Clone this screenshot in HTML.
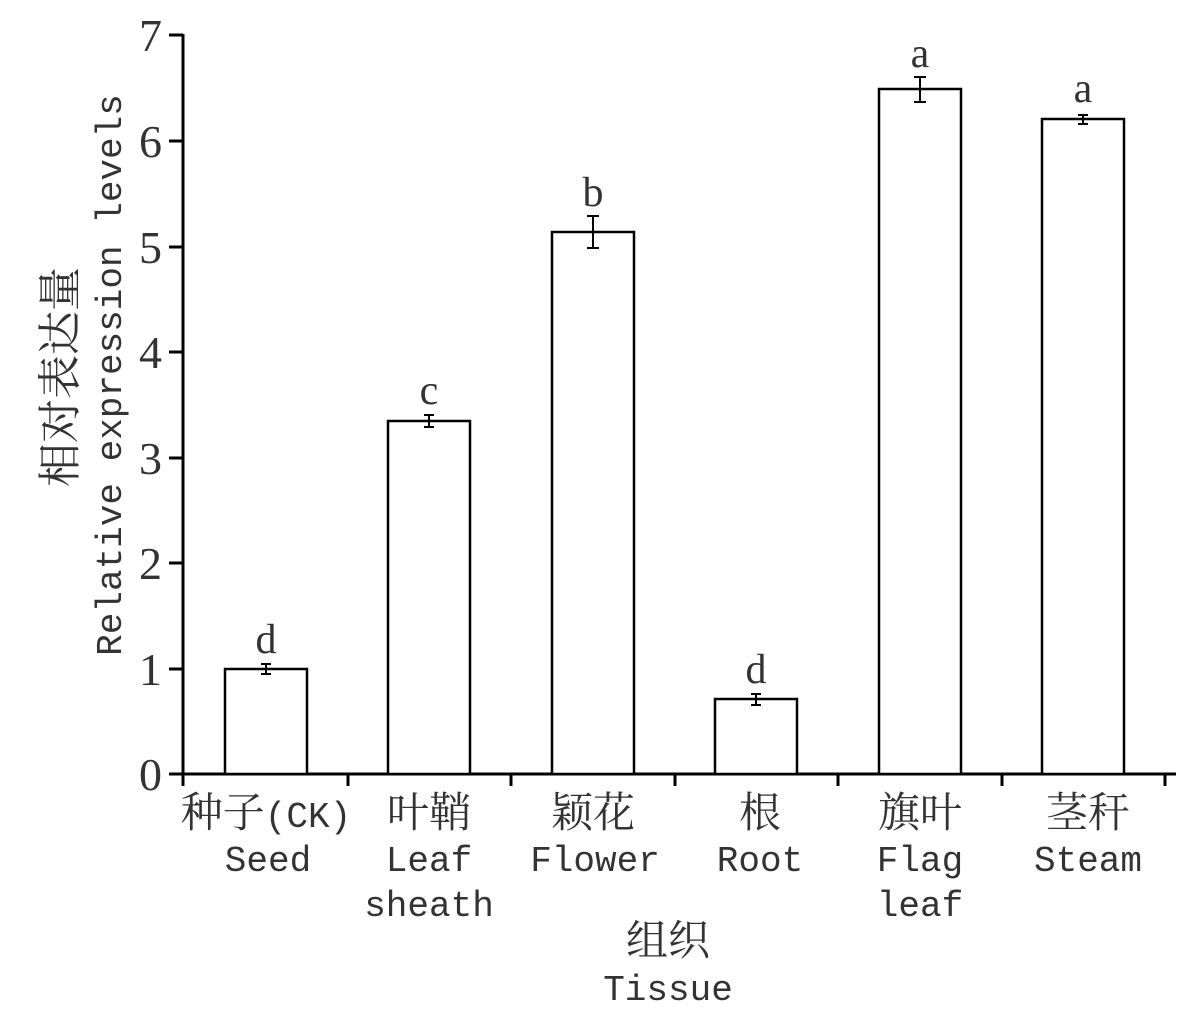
<!DOCTYPE html>
<html><head><meta charset="utf-8"><style>
html,body{margin:0;padding:0;background:#fff;}
svg text{font-family:"Liberation Mono","Noto Serif CJK SC",monospace;fill:#333;}
svg text.s{font-family:"Liberation Serif","Noto Serif CJK SC",serif;}
svg tspan.c{font-size:42px;}
</style></head><body>
<svg width="1200" height="1017" xmlns="http://www.w3.org/2000/svg">
<g stroke="#000" stroke-width="3" fill="none">
<line x1="183" y1="34" x2="183" y2="776"/>
<line x1="181" y1="774" x2="1176" y2="774"/>
<line x1="169" y1="35" x2="183" y2="35"/>
<line x1="169" y1="141" x2="183" y2="141"/>
<line x1="169" y1="247" x2="183" y2="247"/>
<line x1="169" y1="352" x2="183" y2="352"/>
<line x1="169" y1="458" x2="183" y2="458"/>
<line x1="169" y1="563" x2="183" y2="563"/>
<line x1="169" y1="669" x2="183" y2="669"/>
<line x1="169" y1="774" x2="183" y2="774"/>
<line x1="183" y1="774" x2="183" y2="786"/>
<line x1="348" y1="774" x2="348" y2="786"/>
<line x1="511" y1="774" x2="511" y2="786"/>
<line x1="675" y1="774" x2="675" y2="786"/>
<line x1="838" y1="774" x2="838" y2="786"/>
<line x1="1002" y1="774" x2="1002" y2="786"/>
<line x1="1165" y1="774" x2="1165" y2="786"/>
</g>
<g stroke="#000" stroke-width="2.5" fill="#fff">
<rect x="225" y="669" width="82" height="105"/>
<rect x="388" y="421" width="82" height="353"/>
<rect x="552" y="232" width="82" height="542"/>
<rect x="715" y="699" width="82" height="75"/>
<rect x="879" y="89" width="82" height="685"/>
<rect x="1042" y="119" width="82" height="655"/>
</g>
<g stroke="#000" stroke-width="2" fill="none">
<path d="M261 664h10M266 664v10M261 674h10"/>
<path d="M424 415h10M429 415v12M424 427h10"/>
<path d="M587 216h12M593 216v32M587 248h12"/>
<path d="M751 694h10M756 694v11M751 705h10"/>
<path d="M914 77h12M920 77v25M914 102h12"/>
<path d="M1078 115h10M1083 115v9M1078 124h10"/>
</g>
<g font-size="46" text-anchor="end">
<text class="s" x="162" y="51">7</text><text class="s" x="162" y="157">6</text><text class="s" x="162" y="263">5</text>
<text class="s" x="162" y="368">4</text><text class="s" x="162" y="474">3</text><text class="s" x="162" y="579">2</text>
<text class="s" x="162" y="685">1</text><text class="s" x="162" y="790">0</text>
</g>
<g font-size="42" text-anchor="middle">
<text class="s" x="266" y="653">d</text><text class="s" x="429" y="404">c</text><text class="s" x="593" y="206">b</text>
<text class="s" x="756" y="683">d</text><text class="s" x="920" y="67">a</text><text class="s" x="1083" y="102">a</text>
</g>
<g font-size="36" text-anchor="middle">
<text x="266" y="827"><tspan class="c">种子</tspan>(CK)</text><text x="268" y="871">Seed</text>
<text x="429" y="827" class="s" font-size="42">叶鞘</text><text x="429" y="871">Leaf</text><text x="429" y="916">sheath</text>
<text x="593" y="827" font-size="42">颖花</text><text x="595" y="871">Flower</text>
<text x="760" y="827" font-size="42">根</text><text x="760" y="871">Root</text>
<text x="920" y="827" font-size="42">旗叶</text><text x="920" y="871">Flag</text><text x="920" y="916">leaf</text>
<text x="1088" y="827" font-size="42">茎秆</text><text x="1088" y="871">Steam</text>
<text x="668" y="955" font-size="42">组织</text><text x="668" y="1000">Tissue</text>
</g>
<g font-size="36" text-anchor="middle">
<text transform="translate(75,377) rotate(-90)" font-size="44">相对表达量</text>
<text transform="translate(121,375) rotate(-90)">Relative expression levels</text>
</g>
</svg>
</body></html>
